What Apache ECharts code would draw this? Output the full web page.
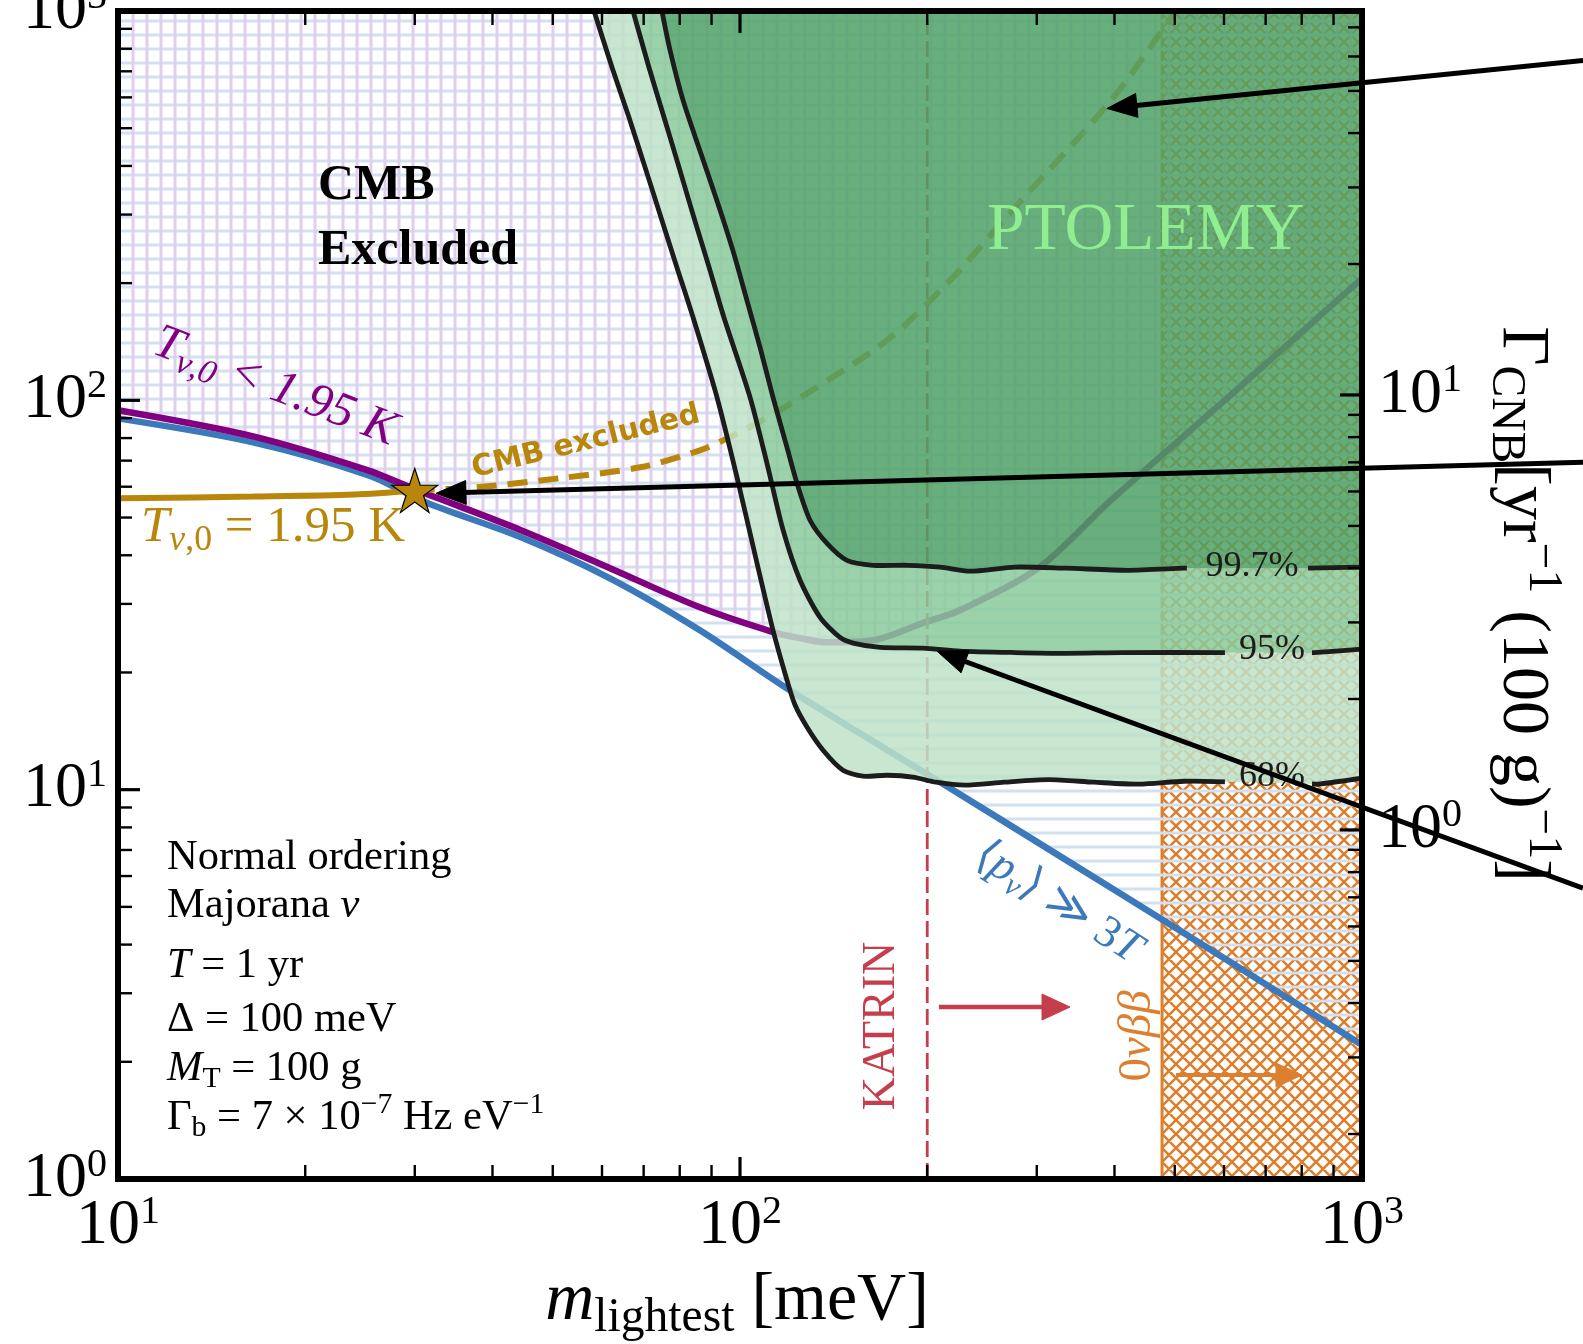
<!DOCTYPE html>
<html>
<head>
<meta charset="utf-8">
<script src="https://cdn.jsdelivr.net/npm/echarts@6.0.0/dist/echarts.min.js"></script>
<style>
html,body{margin:0;padding:0;background:#ffffff;}
#chart{width:1583px;height:1344px;}
</style>
</head>
<body>
<div id="chart"></div>
<script>
// ================= DATA =================
const xTickLabels = [10, 100, 1000];
const yTickLabels = [1, 10, 100, 1000];
const gammaTickLabels = [1, 10];
const minorSteps = [2, 3, 4, 5, 6, 7, 8, 9];
const gammaMinorTicks = [0.2, 0.3, 0.4, 0.5, 0.6, 0.7, 0.8, 0.9, 2, 3, 4, 5, 6, 7, 8, 9, 20, 30, 40, 50, 60, 70];

const xRange = [10, 1000];
const yRange = [1, 1000];
const gammaRange = [0.1576, 76.33];

// <p_nu> >> 3T boundary (blue)
const blueCurve = [[10, 89.9], [16.49, 78.0], [25.23, 64.2], [31.5, 54.4], [44.45, 44.5], [61.8, 34.9], [86.2, 25.67], [120.3, 18.0], [211.2, 10.39], [326.8, 6.75], [507.8, 4.36], [769, 2.88], [1000, 2.21]];
// T_nu,0 < 1.95 K boundary (purple, continues under PTOLEMY region)
const purpleCurve = [[10, 94.3], [16.49, 80.8], [25.23, 66.1], [30.0, 59.1], [44.45, 46.4], [61.8, 37.05], [86.2, 29.4], [113.0, 25.4], [124.9, 24.5], [138.0, 23.9], [163.7, 24.2], [196.9, 26.8], [225.8, 28.9], [301.3, 37.0], [394.9, 55.4], [627.3, 106.1], [1000, 205.7]];
// T_nu,0 = 1.95 K (gold solid)
const goldSolid = [[10, 56.0], [16.5, 56.6], [24, 57.3], [30.0, 58.7]];
// CMB excluded (gold dashed)
const goldDashed = [[30.0, 58.7], [37.77, 59.8], [51.35, 63.1], [69.08, 67.3], [86.2, 74.4], [93.9, 78.9], [106.5, 87.3], [128.2, 104.2], [172.3, 142.6], [217.6, 203.3], [276.8, 313.0], [394.9, 589.3], [485.9, 928.8], [502.2, 1000]];
// PTOLEMY contours
const contour68 = [[58.25, 1000], [62.27, 716.0], [66.31, 532.8], [70.37, 396.6], [74.65, 295.0], [79.18, 219.5], [84.04, 163.4], [91.84, 101.8], [98.9, 63.4], [106.5, 38.15], [113.0, 25.67], [119.0, 19.1], [122.6, 16.5], [128.2, 14.47], [136.0, 12.63], [146.4, 11.22], [157.6, 10.83], [172.3, 10.89], [189.7, 10.77], [206.6, 10.45], [230.0, 10.27], [265.7, 10.45], [314.0, 10.61], [370.8, 10.45], [437.9, 10.33], [517.4, 10.51], [660.6, 10.45], [852.7, 10.33], [1000, 10.70]];
const contour95 = [[67.3, 1000], [71.4, 716.0], [75.5, 532.8], [79.8, 396.6], [84.3, 295.0], [89.2, 219.5], [94.2, 163.4], [103.8, 101.8], [110.5, 68.9], [117.3, 46.4], [124.9, 34.5], [134.5, 27.7], [144.8, 24.6], [152.0, 23.8], [168.0, 23.2], [196.9, 23.1], [225.8, 22.7], [276.8, 22.5], [334.2, 22.4], [411.4, 22.5], [600.1, 22.5], [837.1, 22.5], [1000, 22.95]];
const contour997 = [[74.9, 1000], [77.2, 791.6], [81.0, 589.3], [86.2, 438.3], [91.8, 326.2], [97.4, 242.7], [102.6, 180.6], [107.7, 136.8], [113.0, 101.8], [119.0, 75.7], [123.5, 61.2], [129.6, 49.2], [138.0, 42.9], [148.6, 38.8], [163.7, 37.7], [185.6, 37.7], [209.7, 37.3], [234.3, 36.4], [276.8, 37.3], [334.2, 37.05], [420.6, 36.6], [517.4, 37.05], [818.7, 37.05], [1000, 37.3]];
const contourLabelGaps = [[602, 831], [602, 831], [523, 819]]; // 68%, 95%, 99.7%
const contourLabels = ['68%', '95%', '99.7%'];

const katrinMass = 200;
const zeroNuBBMass = 477;
const starPoint = [30.0, 58.7];

// arrows [tail, head] in data coordinates
const arrowTails = [[2266, 746.4], [2266, 69.3], [2266, 5.585], [208.9, 2.765], [502.2, 1.849]];
const arrowHeads = [[389, 562.0], [32.45, 57.7], [207.4, 22.68], [339.3, 2.765], [800.8, 1.849]];

// ================= STYLE =================
const SERIF = '"Liberation Serif", "DejaVu Serif", serif';
const SANS = '"DejaVu Sans", sans-serif';
const C_BLUE = '#3b79ba';
const C_PURPLE = '#800080';
const C_GOLD = '#b8860b';
const C_RED = '#c43f4b';
const C_ORANGE = '#dc7f2e';
const arrowStyles = [
  {color: '#000', width: 5, head: 30, headW: 24},
  {color: '#000', width: 5, head: 30, headW: 24},
  {color: '#000', width: 5, head: 30, headW: 24},
  {color: C_RED, width: 4.5, head: 28, headW: 26},
  {color: C_ORANGE, width: 4, head: 26, headW: 24}
];

function hatchCanvas(kind) {
  const c = document.createElement('canvas');
  if (kind === 'x') { c.width = 14; c.height = 14; } else { c.width = 14; c.height = 14; }
  const ctx = c.getContext('2d');
  if (kind === 'h') { ctx.fillStyle = 'rgb(210,224,240)'; ctx.fillRect(0, 5.5, 14, 3); }
  else if (kind === 'v') { ctx.fillStyle = 'rgb(223,206,237)'; ctx.fillRect(5.5, 0, 3, 14); }
  else {
    ctx.strokeStyle = C_ORANGE; ctx.lineWidth = 2.6; ctx.beginPath();
    for (let k = -1; k <= 1; k++) {
      ctx.moveTo(k * 14, 0); ctx.lineTo(k * 14 + 14, 14);
      ctx.moveTo(k * 14 + 14, 0); ctx.lineTo(k * 14, 14);
    }
    ctx.stroke();
  }
  return c;
}
const patH = hatchCanvas('h'), patV = hatchCanvas('v'), patX = hatchCanvas('x');

function lerpLog(a, b, x) {
  const t = (Math.log10(x) - Math.log10(a[0])) / (Math.log10(b[0]) - Math.log10(a[0]));
  return [x, Math.pow(10, Math.log10(a[1]) + t * (Math.log10(b[1]) - Math.log10(a[1])))];
}
function splitCurve(curve, g0, g1) {
  const A = [], B = [];
  for (let i = 0; i < curve.length; i++) {
    const p = curve[i];
    if (p[0] < g0) { A.push(p); if (curve[i + 1] && curve[i + 1][0] >= g0) A.push(lerpLog(p, curve[i + 1], g0)); }
    if (p[0] > g1) { if (curve[i - 1] && curve[i - 1][0] <= g1) B.push(lerpLog(curve[i - 1], p, g1)); B.push(p); }
  }
  return [A, B];
}
const contourSegments = [];
[contour68, contour95, contour997].forEach((c, i) => {
  const s = splitCurve(c, contourLabelGaps[i][0], contourLabelGaps[i][1]);
  contourSegments.push(s[0], s[1]);
});

const starPath = 'path://M50 0 L61.23 34.55 L97.55 34.55 L68.17 55.9 L79.39 90.45 L50 69.1 L20.61 90.45 L31.83 55.9 L2.45 34.55 L38.77 34.55 Z';

function pts(list, api) { return list.map(p => api.coord(p)); }
function polySeries(name, z, builder, clip) {
  return {
    type: 'custom', name: name, xAxisIndex: 0, yAxisIndex: 0, z: z, silent: true, clip: clip !== false,
    data: [[xRange[0], yRange[0]]],
    renderItem: function (params, api) { return {type: 'group', children: builder(api, params)}; }
  };
}
function lineSeries(data, color, width, z, dash) {
  return {
    type: 'line', data: data, xAxisIndex: 0, yAxisIndex: 0, z: z, silent: true,
    showSymbol: false, symbol: 'none', smooth: 0.3,
    lineStyle: {color: color, width: width, type: dash || 'solid', cap: 'butt'}
  };
}

const topRight = [xRange[1], yRange[1]];
const topLeft = [xRange[0], yRange[1]];

const series = [];
// hatch fills
series.push(polySeries('0vbb hatch', 1, function (api) {
  return [
    {type: 'polygon', shape: {points: pts([[zeroNuBBMass, yRange[0]], [xRange[1], yRange[0]], topRight, [zeroNuBBMass, yRange[1]]], api)},
      style: {fill: {image: patX, repeat: 'repeat'}, stroke: 'none'}},
    {type: 'polyline', shape: {points: pts([[zeroNuBBMass, yRange[0]], [zeroNuBBMass, yRange[1]]], api)},
      style: {stroke: C_ORANGE, lineWidth: 3, fill: 'none'}}
  ];
}));
series.push(polySeries('blue hatch', 2, function (api) {
  return [{type: 'polygon', shape: {points: pts(blueCurve.concat([topRight, topLeft]), api)},
    style: {fill: {image: patH, repeat: 'repeat'}, stroke: 'none'}}];
}));
series.push(polySeries('purple hatch', 3, function (api) {
  return [{type: 'polygon', shape: {points: pts(purpleCurve.concat([topRight, topLeft]), api)},
    style: {fill: {image: patV, repeat: 'repeat'}, stroke: 'none'}}];
}));
// curves
series.push(lineSeries(blueCurve, C_BLUE, 6.5, 4));
series.push(lineSeries(purpleCurve, C_PURPLE, 6.5, 4));
series.push(lineSeries(goldSolid, C_GOLD, 6, 4));
series.push(lineSeries(goldDashed, C_GOLD, 6, 4, [20, 11]));
series.push(Object.assign(lineSeries([[katrinMass, yRange[0]], [katrinMass, yRange[1]]], C_RED, 2.8, 4, [16, 6]), {smooth: false}));
// PTOLEMY bands
series.push(polySeries('PTOLEMY bands', 5, function (api) {
  const band1 = contour68.concat(contour95.slice().reverse());
  const band2 = contour95.concat(contour997.slice().reverse());
  const band3 = contour997.concat([topRight]);
  return [
    {type: 'polygon', shape: {points: pts(band1, api)}, style: {fill: 'rgba(190,226,200,0.85)', stroke: 'none'}},
    {type: 'polygon', shape: {points: pts(band2, api)}, style: {fill: 'rgba(137,202,155,0.85)', stroke: 'none'}},
    {type: 'polygon', shape: {points: pts(band3, api)}, style: {fill: 'rgba(79,161,102,0.85)', stroke: 'none'}}
  ];
}));
// contour lines
series.push(polySeries('contour lines', 6, function (api) {
  return contourSegments.map(seg => ({type: 'polyline', shape: {points: pts(seg, api), smooth: 0.25},
    style: {stroke: '#1c1c1c', lineWidth: 4.8, fill: 'none', lineJoin: 'round'}}));
}));
// star
series.push({type: 'scatter', data: [starPoint], z: 7, silent: true, symbol: starPath, symbolSize: [46, 44],
  itemStyle: {color: C_GOLD, borderColor: '#000', borderWidth: 1.2, opacity: 1}});
// arrows
series.push({
  type: 'custom', z: 9, silent: true, clip: false, xAxisIndex: 0, yAxisIndex: 0,
  data: arrowHeads.map((h, i) => [h[0], h[1], i]),
  renderItem: function (params, api) {
    const i = params.dataIndex, st = arrowStyles[i];
    const p0 = api.coord(arrowTails[i]), p1 = api.coord(arrowHeads[i]);
    const dx = p1[0] - p0[0], dy = p1[1] - p0[1], L = Math.hypot(dx, dy), ux = dx / L, uy = dy / L;
    const base = [p1[0] - ux * st.head, p1[1] - uy * st.head];
    const left = [base[0] - uy * st.headW / 2, base[1] + ux * st.headW / 2];
    const right = [base[0] + uy * st.headW / 2, base[1] - ux * st.headW / 2];
    return {type: 'group', children: [
      {type: 'line', shape: {x1: p0[0], y1: p0[1], x2: base[0] + ux * 3, y2: base[1] + uy * 3}, style: {stroke: st.color, lineWidth: st.width}},
      {type: 'polygon', shape: {points: [p1, left, right]}, style: {fill: st.color, stroke: st.color, lineWidth: 1}}
    ]};
  }
});
// frame + ticks (left / bottom / top)
function tickLine(x1, y1, x2, y2, w) { return {type: 'line', shape: {x1: x1, y1: y1, x2: x2, y2: y2}, style: {stroke: '#000', lineWidth: w}}; }
const decadesX = [10, 100], decadesY = [1, 10, 100];
series.push(polySeries('ticks', 10, function (api, params) {
  const cs = params.coordSys, ch = [];
  const bottom = cs.y + cs.height, top = cs.y, left = cs.x;
  xTickLabels.forEach(v => { const px = api.coord([v, 1])[0]; ch.push(tickLine(px, bottom, px, bottom - 22, 3.2), tickLine(px, top, px, top + 22, 3.2)); });
  decadesX.forEach(d => minorSteps.forEach(m => { const px = api.coord([d * m, 1])[0]; ch.push(tickLine(px, bottom, px, bottom - 14, 2.4), tickLine(px, top, px, top + 14, 2.4)); }));
  yTickLabels.forEach(v => { const py = api.coord([10, v])[1]; ch.push(tickLine(left, py, left + 22, py, 3.2)); });
  decadesY.forEach(d => minorSteps.forEach(m => { const py = api.coord([10, d * m])[1]; ch.push(tickLine(left, py, left + 14, py, 2.4)); }));
  ch.push({type: 'rect', shape: {x: cs.x, y: cs.y, width: cs.width, height: cs.height}, style: {fill: 'none', stroke: '#000', lineWidth: 6}});
  return ch;
}, false));
series.push({
  type: 'custom', z: 10, silent: true, clip: false, xAxisIndex: 0, yAxisIndex: 1, data: [[10, 1]],
  renderItem: function (params, api) {
    const cs = params.coordSys, right = cs.x + cs.width, ch = [];
    gammaTickLabels.forEach(v => { const py = api.coord([10, v])[1]; ch.push(tickLine(right, py, right - 22, py, 3.2)); });
    gammaMinorTicks.forEach(v => { const py = api.coord([10, v])[1]; ch.push(tickLine(right, py, right - 14, py, 2.4)); });
    return {type: 'group', children: ch};
  }
});

// ================= TEXT =================
function tok(size, color, italic, weight, extra) {
  return Object.assign({fontSize: size, fontFamily: SERIF, fontStyle: italic ? 'italic' : 'normal', fontWeight: weight || 'normal', fill: color, color: color}, extra || {});
}
function mathRich(S, color, weight) {
  return {
    r: tok(S, color, false, weight), i: tok(S, color, true, weight),
    sub: tok(S * 0.7, color, false, weight, {padding: [S * 0.5, 0, 0, 0]}),
    subi: tok(S * 0.7, color, true, weight, {padding: [S * 0.5, 0, 0, 0]}),
    sup: tok(S * 0.7, color, false, weight, {padding: [0, 0, S * 0.6, 0]})
  };
}
function T(text, x, y, S, color, opts) {
  opts = opts || {};
  return {type: 'text', x: x, y: y, rotation: opts.rot || 0, z: opts.z || 8, silent: true,
    style: {text: text, rich: mathRich(S, color, opts.weight), fill: color, fontSize: S, fontFamily: opts.family || SERIF,
      fontWeight: opts.weight || 'normal', fontStyle: opts.italic ? 'italic' : 'normal',
      align: opts.align || 'left', verticalAlign: 'middle'}};
}
const graphics = [
  T('{r|CMB}', 318, 186, 50, '#000', {weight: 'bold'}),
  T('{r|Excluded}', 318, 251, 50, '#000', {weight: 'bold'}),
  T('{r|PTOLEMY}', 987, 231, 67.5, '#90ee90'),
  T('{i|T}{subi|ν,0}{i| < 1.95 K}', 275, 387, 49, C_PURPLE, {align: 'center', rot: -0.37}),
  T('{i|T}{subi|ν}{sub|,0}{r| = 1.95 K}', 141, 528, 51, C_GOLD),
  {type: 'text', x: 586, y: 442, rotation: 0.24, z: 8, silent: true,
    style: {text: 'CMB excluded', fill: C_GOLD, fontSize: 29.5, fontFamily: SANS, fontWeight: 'bold', align: 'center', verticalAlign: 'middle'}},
  T('{r|⟨}{i|p}{subi|ν}{r|⟩ ≫ 3}{i|T}', 1058, 903, 45, C_BLUE, {align: 'center', rot: -0.57}),
  T('{r|KATRIN}', 882, 1026, 46, C_RED, {align: 'center', rot: Math.PI / 2}),
  T('{r|0}{i|νββ}', 1138, 1036, 47, C_ORANGE, {align: 'center', rot: Math.PI / 2}),
  T('{r|' + contourLabels[2] + '}', 1252, 567, 36, '#1c1c1c', {align: 'center'}),
  T('{r|' + contourLabels[1] + '}', 1272, 650, 36, '#1c1c1c', {align: 'center'}),
  T('{r|' + contourLabels[0] + '}', 1272, 777, 36, '#1c1c1c', {align: 'center'}),
  T('{r|Normal ordering}', 167, 858, 42.5, '#000'),
  T('{r|Majorana }{i|ν}', 167, 906, 42.5, '#000'),
  T('{i|T}{r| = 1 yr}', 167, 966, 42.5, '#000'),
  T('{r|Δ = 100 meV}', 167, 1020, 42.5, '#000'),
  T('{i|M}{sub|T}{r| = 100 g}', 167, 1069, 42.5, '#000'),
  T('{r|Γ}{sub|b}{r| = 7 × 10}{sup|−7}{r| Hz eV}{sup|−1}', 167, 1118, 42.5, '#000'),
  T('{i|m}{sub|lightest}{r| [meV]}', 737, 1301, 68, '#000', {align: 'center'}),
  T('{r|Γ}{sub|CNB}{r|[yr}{sup|−1}{r| (100 g)}{sup|−1}{r|]}', 1522, 604, 68, '#000', {align: 'center', rot: -Math.PI / 2})
];

// ================= AXES =================
const tickRich = {
  b: {fontSize: 64, fontFamily: SERIF, color: '#000'},
  s: {fontSize: 40, fontFamily: SERIF, color: '#000', padding: [0, 0, 28, 0]}
};
function powLabel(v) {
  const e = Math.log10(v), r = Math.round(e);
  if (Math.abs(e - r) > 1e-6) return '';
  return '{b|10}{s|' + r + '}';
}
const baseAxis = {
  type: 'log', logBase: 10,
  axisLine: {show: false}, axisTick: {show: false}, splitLine: {show: false}, minorTick: {show: false},
  axisLabel: {formatter: powLabel, rich: tickRich, color: '#000', showMinLabel: true, showMaxLabel: true, hideOverlap: false}
};

const chart = echarts.init(document.getElementById('chart'), null, {renderer: 'canvas', width: 1583, height: 1344});
chart.setOption({
  animation: false,
  backgroundColor: '#ffffff',
  grid: {left: 118, top: 11, width: 1244, height: 1168, containLabel: false, outerBoundsMode: 'none', show: false},
  xAxis: [Object.assign({}, baseAxis, {min: xRange[0], max: xRange[1], position: 'bottom',
    axisLabel: Object.assign({}, baseAxis.axisLabel, {margin: 13})})],
  yAxis: [
    Object.assign({}, baseAxis, {min: yRange[0], max: yRange[1], position: 'left',
      axisLabel: Object.assign({}, baseAxis.axisLabel, {margin: 11})}),
    Object.assign({}, baseAxis, {min: gammaRange[0], max: gammaRange[1], position: 'right',
      axisLabel: Object.assign({}, baseAxis.axisLabel, {margin: 16})})
  ],
  graphic: graphics,
  series: series
});
</script>
</body>
</html>
